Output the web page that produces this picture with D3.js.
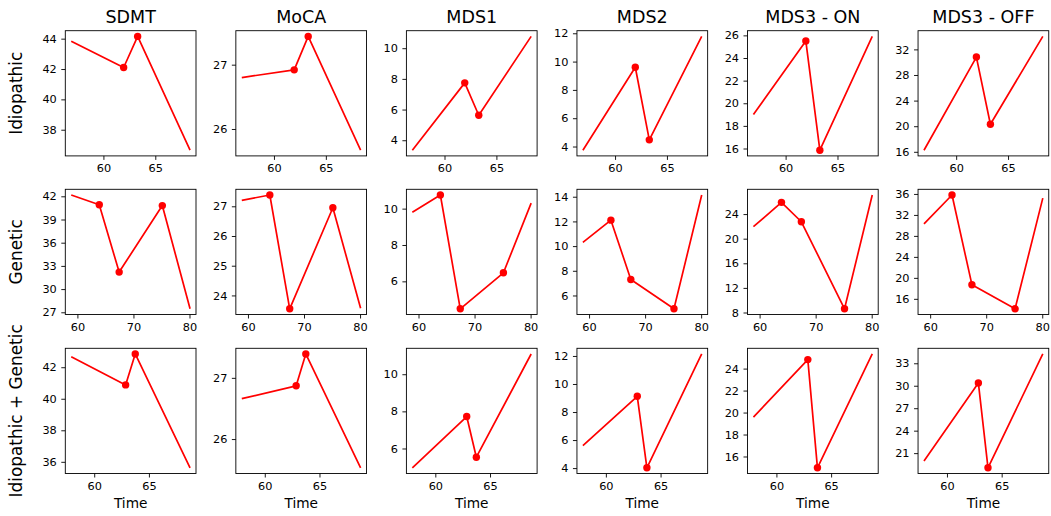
<!DOCTYPE html>
<html>
<head>
<meta charset="utf-8">
<script src="https://cdn.jsdelivr.net/npm/d3@7"></script>
<style>
  html, body { margin: 0; padding: 0; background: #fff; }
  svg { display: block; font-family: "DejaVu Sans", sans-serif; }
</style>
</head>
<body>
<svg id="chart" width="1051" height="516"></svg>
<script>
// ---- data ----
const metrics = ["SDMT", "MoCA", "MDS1", "MDS2", "MDS3 - ON", "MDS3 - OFF"];
const groups = ["Idiopathic", "Genetic", "Idiopathic + Genetic"];

const timeIdiopathic = [56.9, 61.95, 63.3, 68.35];
const timeGenetic = [58.9, 63.9, 67.45, 75.15, 80.1];
const timeCombined = [57.9, 62.87, 63.75, 68.76];

const valuesIdiopathic = [
  [43.83, 42.1, 44.15, 36.65],
  [26.8, 26.92, 27.44, 25.67],
  [3.35, 7.74, 5.63, 10.77],
  [3.74, 9.6, 4.47, 11.78],
  [19.0, 25.5, 15.85, 25.91],
  [16.25, 30.8, 20.3, 34.03]
];
const valuesGenetic = [
  [42.17, 40.9, 32.2, 40.8, 27.45],
  [27.2, 27.38, 23.55, 26.95, 23.57],
  [9.8, 10.75, 4.49, 6.47, 10.3],
  [10.3, 12.1, 7.3, 4.92, 14.14],
  [21.95, 25.9, 22.75, 8.6, 27.1],
  [30.3, 35.8, 18.7, 14.1, 35.2]
];
const valuesCombined = [
  [42.67, 40.88, 42.84, 35.62],
  [26.66, 26.87, 27.39, 25.53],
  [4.96, 7.72, 5.53, 11.09],
  [5.6, 9.12, 4.02, 12.14],
  [19.58, 24.82, 14.97, 25.33],
  [19.95, 30.37, 19.04, 34.24]
];

const xTicksIdiopathic = [60, 65];
const xTicksGenetic = [60, 70, 80];
const xTicksCombined = [60, 65];

const yTicksIdiopathic = [
  [38, 40, 42, 44], [26, 27], [4, 6, 8, 10], [4, 6, 8, 10, 12],
  [16, 18, 20, 22, 24, 26], [16, 20, 24, 28, 32]
];
const yTicksGenetic = [
  [27, 30, 33, 36, 39, 42], [24, 25, 26, 27], [6, 8, 10], [6, 8, 10, 12, 14],
  [8, 12, 16, 20, 24], [16, 20, 24, 28, 32, 36]
];
const yTicksCombined = [
  [36, 38, 40, 42], [26, 27], [6, 8, 10], [4, 6, 8, 10, 12],
  [16, 18, 20, 22, 24], [21, 24, 27, 30, 33]
];

const xLabel = "Time";

// ---- layout ----
const rows = [
  { time: timeIdiopathic, values: valuesIdiopathic, xt: xTicksIdiopathic, yt: yTicksIdiopathic },
  { time: timeGenetic, values: valuesGenetic, xt: xTicksGenetic, yt: yTicksGenetic },
  { time: timeCombined, values: valuesCombined, xt: xTicksCombined, yt: yTicksCombined }
];
const colLeft0 = 65.3, colStep = 170.55, axW = 130.7;
const rowTops = [30.7, 189.3, 348.3], axH = 125.2;

const svg = d3.select("#chart");

function padDomain(ext) {
  const r = ext[1] - ext[0];
  return [ext[0] - 0.05 * r, ext[1] + 0.05 * r];
}

rows.forEach((row, ri) => {
  const top = rowTops[ri];
  // row label
  svg.append("text")
    .attr("transform", `translate(21.5,${top + axH / 2}) rotate(-90)`)
    .attr("text-anchor", "middle")
    .attr("font-size", "16.9px")
    .attr("fill", "#000")
    .text(groups[ri]);

  metrics.forEach((m, ci) => {
    const left = colLeft0 + ci * colStep;
    const g = svg.append("g").attr("transform", `translate(${left},${top})`);
    const vals = row.values[ci];
    const pts = row.time.map((t, i) => ({ t, v: vals[i] }));

    const x = d3.scaleLinear().domain(padDomain(d3.extent(row.time))).range([0, axW]);
    const y = d3.scaleLinear().domain(padDomain(d3.extent(vals))).range([axH, 0]);

    // axes
    const xa = g.append("g").attr("transform", `translate(0,${axH})`)
      .call(d3.axisBottom(x).tickValues(row.xt).tickSize(4).tickPadding(4.5).tickFormat(d3.format("d")));
    const ya = g.append("g")
      .call(d3.axisLeft(y).tickValues(row.yt[ci]).tickSize(4).tickPadding(4.5).tickFormat(d3.format("d")));
    [xa, ya].forEach(a => {
      a.select(".domain").remove();
      a.selectAll(".tick line").attr("stroke", "#000").attr("stroke-width", 0.9);
      a.selectAll(".tick text").attr("font-size", "11.3px").attr("fill", "#000")
        .attr("font-family", "DejaVu Sans, sans-serif");
    });

    // line
    g.append("path")
      .datum(pts)
      .attr("fill", "none")
      .attr("stroke", "#ff0000")
      .attr("stroke-width", 1.7)
      .attr("stroke-linejoin", "round")
      .attr("d", d3.line().x(d => x(d.t)).y(d => y(d.v)));

    // markers for interior points
    g.selectAll("circle")
      .data(pts.slice(1, pts.length - 1))
      .enter().append("circle")
      .attr("cx", d => x(d.t))
      .attr("cy", d => y(d.v))
      .attr("r", 3.7)
      .attr("fill", "#ff0000");

    // frame
    g.append("rect")
      .attr("x", 0).attr("y", 0).attr("width", axW).attr("height", axH)
      .attr("fill", "none").attr("stroke", "#000").attr("stroke-width", 0.9);

    // title
    if (ri === 0) {
      g.append("text")
        .attr("x", axW / 2).attr("y", -7.5)
        .attr("text-anchor", "middle")
        .attr("font-size", "17.5px")
        .attr("fill", "#000")
        .text(m);
    }
    // x label
    if (ri === rows.length - 1) {
      g.append("text")
        .attr("x", axW / 2).attr("y", axH + 35)
        .attr("text-anchor", "middle")
        .attr("font-size", "13.7px")
        .attr("fill", "#000")
        .text(xLabel);
    }
  });
});
</script>
</body>
</html>
